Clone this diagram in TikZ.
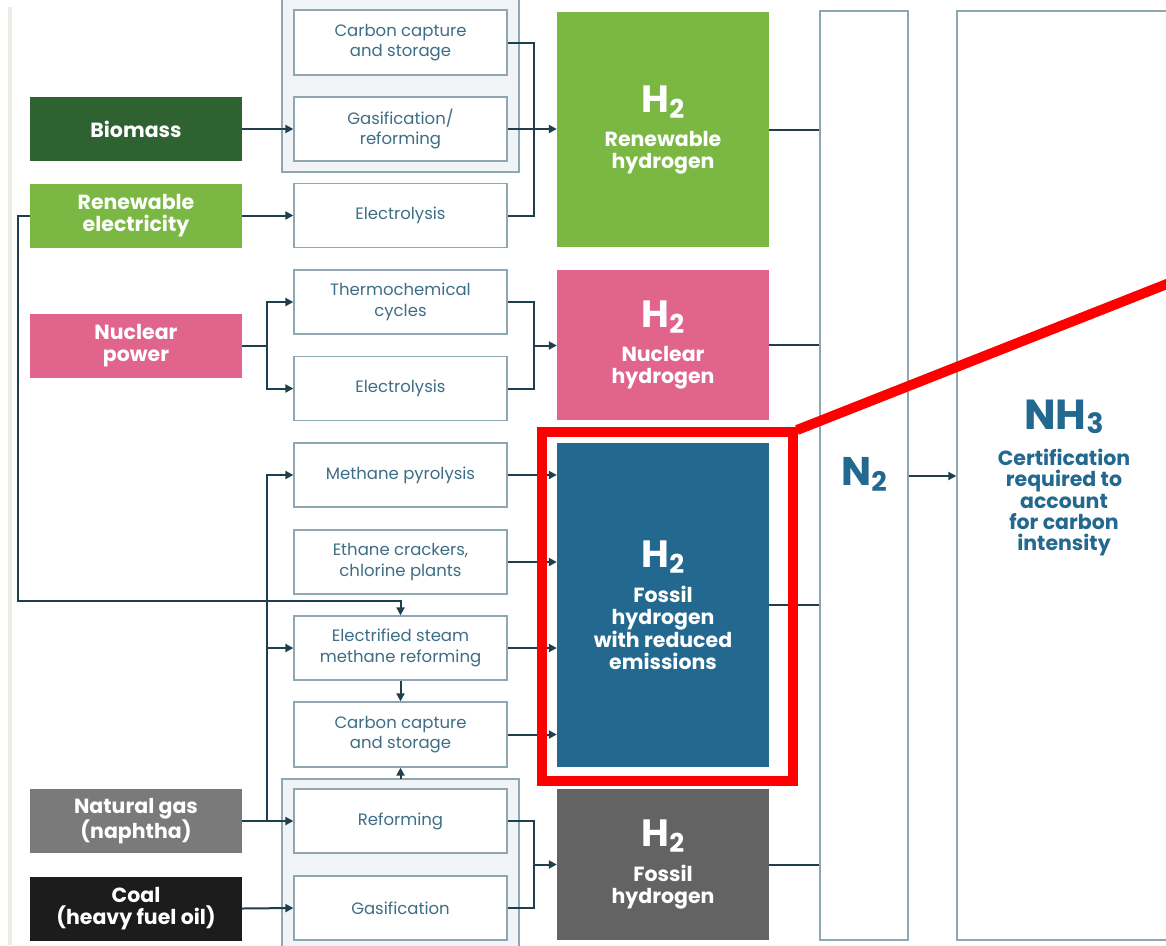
\documentclass[tikz,border=0pt]{standalone}
\usepackage{fontspec}
\setmainfont{Poppins}
\usetikzlibrary{arrows.meta,calc}
\definecolor{linec}{HTML}{1F3F4F}
\definecolor{boxc}{HTML}{8EA7B3}
\definecolor{labc}{HTML}{3D6E86}
\definecolor{grpfill}{HTML}{F0F4F6}
\definecolor{dkgreen}{HTML}{2F6231}
\definecolor{ltgreen}{HTML}{7AB843}
\definecolor{pinkc}{HTML}{E0648B}
\definecolor{bluec}{HTML}{23688F}
\definecolor{gasgrey}{HTML}{7A7A7A}
\definecolor{coalc}{HTML}{1C1C1C}
\definecolor{fosgrey}{HTML}{636363}
\definecolor{stripc}{HTML}{ECEBE4}
\definecolor{redc}{HTML}{FF0000}
\newcommand{\hydtwo}{{\fontsize{38}{38}\selectfont H\raisebox{-6pt}{\fontsize{26}{26}\selectfont 2}}}
\begin{document}
\begin{tikzpicture}[x=1pt,y=-1pt,
  proc/.style={draw=boxc, line width=1.3pt, fill=white, minimum width=213pt, minimum height=64pt,
    inner sep=0pt, align=center, text=labc, font=\fontsize{16.5}{20.5}\selectfont},
  src/.style={minimum width=212pt, minimum height=64pt, inner sep=0pt, align=center,
    text=white, font=\bfseries\fontsize{20.5}{22}\selectfont},
  htwobox/.style={minimum width=212pt, inner sep=0pt, align=center,
    text=white, font=\bfseries\fontsize{20.5}{22}\selectfont},
  tall/.style={draw=boxc, line width=1.4pt, fill=white, inner sep=0pt},
  grp/.style={draw=boxc, line width=1.3pt, fill=grpfill},
  ln/.style={draw=linec, line width=2pt},
  arr/.style={draw=linec, line width=2pt, -{Triangle[length=8pt,width=8pt]}},
]
\clip (0,0) rectangle (1166,945);
\fill[white] (0,0) rectangle (1166,945);
\fill[stripc] (8,7) rectangle (12,945);

% group boxes
\draw[grp] (282,-10) rectangle (519,172);
\draw[grp] (282,779) rectangle (519,960);
\coordinate (g2top) at (400.5,779);

% N2 and NH3 columns
\node[tall, minimum width=88pt, minimum height=929pt] (n2) at (864,475.5) {};
\node[tall, minimum width=230pt, minimum height=929pt] (nh3) at (1072,475.5) {};
\node[text=bluec, font=\bfseries\fontsize{40}{40}\selectfont] (n2t) at (864,474)
  {N\raisebox{-6pt}{\fontsize{27}{27}\selectfont 2}};
\node[text=bluec, font=\bfseries\fontsize{42}{42}\selectfont, anchor=base] (nh3t) at (1064,429)
  {NH\raisebox{-4pt}{\fontsize{28}{28}\selectfont 3}};
\node[text=bluec, font=\bfseries\fontsize{20.5}{21.3}\selectfont, align=center, anchor=north, inner sep=0pt]
  (cert) at (1064,449) {Certification\\required to\\account\\for carbon\\intensity};

% sources
\node[src, fill=dkgreen] (bio) at (136,129) {Biomass};
\node[src, fill=ltgreen] (renel) at (136,215.5) {Renewable\\electricity};
\node[src, fill=pinkc] (nuc) at (136,345.5) {Nuclear\\power};
\node[src, fill=gasgrey] (ng) at (136,821) {Natural gas\\(naphtha)};
\node[src, fill=coalc] (coal) at (136,908.5) {Coal\\(heavy fuel oil)};

% processes
\node[proc, minimum height=65pt] (ccsa) at (400.5,42.5) {Carbon capture\\and storage};
\node[proc] (gasref) at (400.5,129) {Gasification/\\reforming};
\node[proc] (elea) at (400.5,215.5) {Electrolysis};
\node[proc] (thermo) at (400.5,302) {Thermochemical\\cycles};
\node[proc] (eleb) at (400.5,388.5) {Electrolysis};
\node[proc] (pyro) at (400.5,475) {Methane pyrolysis};
\node[proc] (ethane) at (400.5,562) {Ethane crackers,\\chlorine plants};
\node[proc] (esmr) at (400.5,648) {Electrified steam\\methane reforming};
\node[proc, minimum height=65pt] (ccsb) at (400.5,734.5) {Carbon capture\\and storage};
\node[proc] (reform) at (400.5,821) {Reforming};
\node[proc] (gasif) at (400.5,908) {Gasification};

% hydrogen boxes
\node[htwobox, fill=ltgreen, minimum height=235pt] (hren) at (663,129.5)
  {\hydtwo\\[12pt]Renewable\\hydrogen};
\node[htwobox, fill=pinkc, minimum height=150pt] (hnuc) at (663,345)
  {\hydtwo\\[12pt]Nuclear\\hydrogen};
\node[htwobox, fill=bluec, minimum height=324pt] (hred) at (663,605)
  {\hydtwo\\[12pt]Fossil\\hydrogen\\with reduced\\emissions};
\node[htwobox, fill=fosgrey, minimum height=151pt] (hfos) at (663,864.5)
  {\hydtwo\\[12pt]Fossil\\hydrogen};

% renewable connectors
\draw[arr] (bio.east) -- (gasref.west);
\draw[arr] (renel.east) -- (elea.west);
\draw[ln] (ccsa.east) -- ++(26,0) |- (elea.east);
\draw[arr] (gasref.east) -- (gasref.east -| hren.west);
\coordinate (ej) at (400.5,601);
\draw[arr] (renel.west) -- ++(-12,0) |- (ej) -- (esmr.north);

% nuclear connectors
\draw[ln] (nuc.east) -- ++(25,0) coordinate (nj);
\draw[arr] (nj) |- (thermo.west);
\draw[arr] (nj) |- (eleb.west);
\draw[ln] (thermo.east) -- ++(26,0) |- (eleb.east);
\coordinate (nk) at (533,345.5);
\draw[arr] (nk) -- (nk -| hnuc.west);

% natural gas connectors
\draw[arr] (ng.east) -- (reform.west);
\coordinate (gj) at (267,821);
\draw[arr] (gj) |- (pyro.west);
\draw[arr] (gj |- esmr.west) -- (esmr.west);
\draw[arr] (pyro.east) -- (pyro.east -| hred.west);
\draw[arr] (ethane.east) -- (ethane.east -| hred.west);
\draw[arr] (esmr.east) -- (esmr.east -| hred.west);
\draw[arr] (ccsb.east) -- (ccsb.east -| hred.west);
\draw[arr] (esmr.south) -- (ccsb.north);
\draw[arr] (g2top) -- (ccsb.south);

% fossil connectors
\draw[arr] (coal.east) -- (gasif.west);
\draw[ln] (reform.east) -- ++(26,0) |- (gasif.east);
\coordinate (fk) at (533,864.5);
\draw[arr] (fk) -- (fk -| hfos.west);

% hydrogen to N2, N2 to NH3
\draw[ln] (hren.east) -- (hren.east -| n2.west);
\draw[ln] (hnuc.east) -- (hnuc.east -| n2.west);
\draw[ln] (hred.east) -- (hred.east -| n2.west);
\draw[ln] (hfos.east) -- (hfos.east -| n2.west);
\draw[arr] (n2.east |- 0,476) -- (nh3.west |- 0,476);

% red highlight
\draw[redc, line width=10pt] (541.5,431.5) rectangle (792.5,780.5);
\coordinate (rc) at (797,430);
\coordinate (re) at (1172,282);
\draw[redc, line width=10pt] (rc) -- (re);
\end{tikzpicture}
\end{document}
